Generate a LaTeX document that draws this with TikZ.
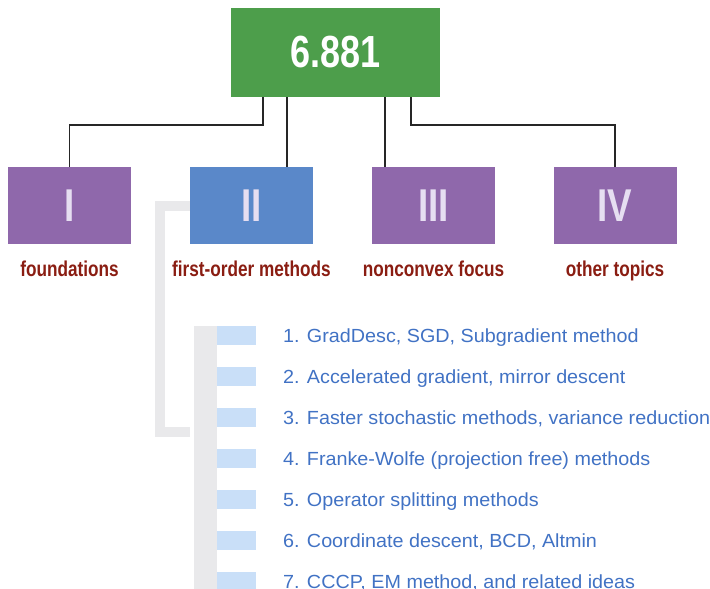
\documentclass[tikz,border=0pt]{standalone}
\usepackage{fontspec}
\setmainfont{Liberation Sans}
\newfontfamily\condfont[FakeStretch=0.8]{Liberation Sans}
\newfontfamily\itemfont[FakeStretch=1.04]{Liberation Sans}
\usetikzlibrary{positioning}
\definecolor{coursegreen}{HTML}{4D9E4B}
\definecolor{partpurple}{HTML}{8F68AB}
\definecolor{partblue}{HTML}{5A88C9}
\definecolor{numeral}{HTML}{E6DEF1}
\definecolor{topicred}{HTML}{8A1D12}
\definecolor{itemblue}{HTML}{4172C4}
\definecolor{tabblue}{HTML}{C9DFF8}
\definecolor{bargray}{HTML}{E9E9EB}
\tikzset{
  part/.style={minimum width=123pt, minimum height=77pt, inner sep=0pt,
    text=numeral, font=\condfont\bfseries\fontsize{46}{46}\selectfont},
  topic/.style={inner sep=0pt, anchor=north, text=topicred,
    font=\condfont\bfseries\fontsize{21.5}{22}\selectfont},
  link/.style={line width=1.5pt, draw=black!85},
  tab/.style={fill=tabblue, minimum width=39pt, minimum height=19pt, inner sep=0pt},
  item/.style={anchor=base west, inner sep=0pt, text=itemblue,
    font=\itemfont\fontsize{19}{21}\selectfont}
}
\begin{document}
\begin{tikzpicture}[x=1pt,y=-1pt]
  \useasboundingbox (0,0) rectangle (710,589);
  % course box and the four parts
  \node[fill=coursegreen, minimum width=209pt, minimum height=89pt, inner sep=0pt,
    text=white, font=\condfont\bfseries\fontsize{45}{45}\selectfont] (course) at (335.5,52.5) {6.881};
  \node[part, fill=partpurple] (p1) at (69.5,205.5) {I};
  \node[part, fill=partblue] (p2) at (251.5,205.5) {II};
  \node[part, fill=partpurple] (p3) at (433.5,205.5) {III};
  \node[part, fill=partpurple] (p4) at (615,205.5) {IV};
  \node[topic, below=17pt of p1] (t1) {foundations};
  \node[topic, below=17pt of p2] (t2) {first-order methods};
  \node[topic, below=17pt of p3] (t3) {nonconvex focus};
  \node[topic, below=17pt of p4] (t4) {other topics};
  % connectors
  \draw[link] ([xshift=-72.5pt]course.south) -- ++(0,28) -| (p1.north);
  \draw[link] ([xshift=-48.5pt]course.south) -- ([xshift=-48.5pt]course.south |- p2.north);
  \draw[link] ([xshift=49.5pt]course.south) -- ([xshift=49.5pt]course.south |- p3.north);
  \draw[link] ([xshift=75.5pt]course.south) -- ++(0,28) -| (p4.north);
  % bracket under part II
  \draw[bargray, line width=10pt] (p2.west) -| (159.5,431.5) -- (190,431.5);
  \fill[bargray] (194,326) rectangle (217,595);
  \foreach \txt [count=\i] in {{GradDesc, SGD, Subgradient method},
      {Accelerated gradient, mirror descent},
      {Faster stochastic methods, variance reduction},
      {Franke-Wolfe (projection free) methods},
      {Operator splitting methods},
      {Coordinate descent, BCD, Altmin},
      {CCCP, EM method, and related ideas}} {
    \node[tab] (tab\i) at (236.5,{335.5+41*(\i-1)}) {};
    \node[item] (item\i) at (283,{342.5+41*(\i-1)}) {\i. \txt};
  }
\end{tikzpicture}
\end{document}
